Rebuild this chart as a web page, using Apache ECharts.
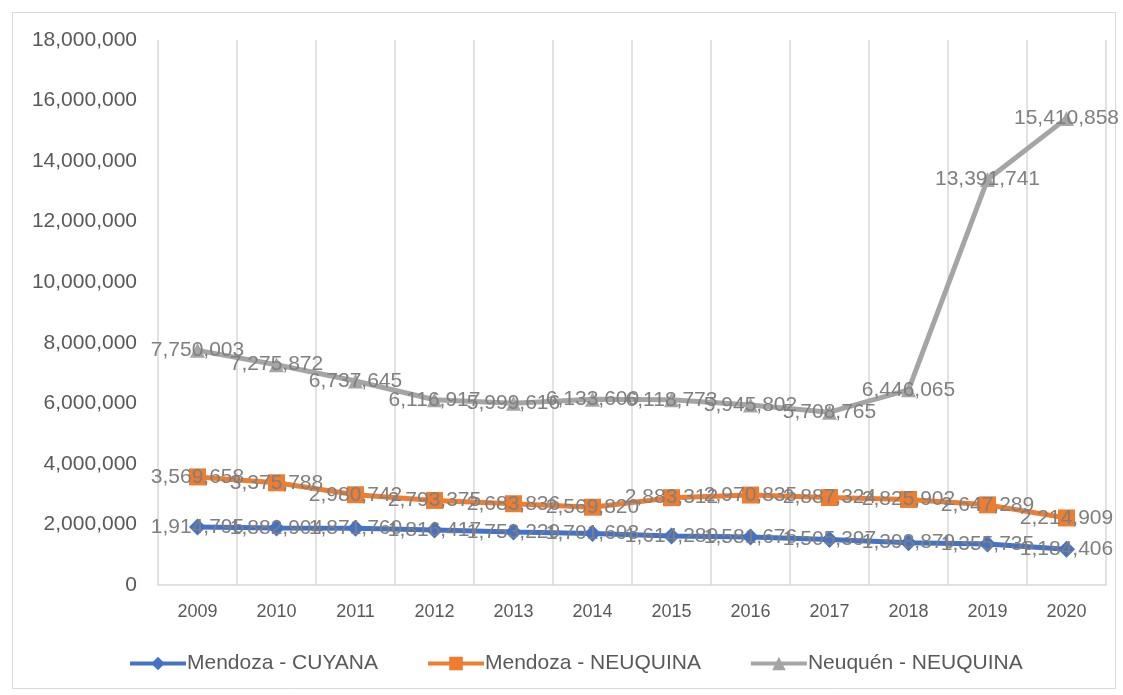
<!DOCTYPE html>
<html>
<head>
<meta charset="utf-8">
<script src="https://cdn.jsdelivr.net/npm/echarts@6/dist/echarts.min.js"></script>
<style>html,body{margin:0;padding:0;background:#fff}#c{width:1123px;height:695px}</style>
</head>
<body>
<div id="c"></div>
<script>
const years = ['2009','2010','2011','2012','2013','2014','2015','2016','2017','2018','2019','2020'];
const mendozaCuyana = [1914795,1882904,1871760,1816417,1753229,1701693,1614280,1581676,1505397,1398879,1355735,1184406];
const mendozaNeuquina = [3569658,3375788,2980742,2793375,2683836,2569820,2883312,2970835,2887324,2825902,2647289,2214909];
const neuquenNeuquina = [7750003,7275872,6737645,6116917,5999616,6133600,6118773,5945802,5708765,6446065,13391741,15410858];
const seriesNames = ['Mendoza - CUYANA','Mendoza - NEUQUINA','Neuquén - NEUQUINA'];

const FONT = 'Liberation Sans';
const fmt = v => Number(v).toLocaleString('en-US');
function mk(name, data, color, symbol, size) {
  return {
    name, type: 'line', data,
    symbol, symbolSize: size,
    lineStyle: { color, width: 5 },
    itemStyle: { color },
    label: {
      show: true, position: 'inside',
      formatter: p => fmt(p.value),
      color: '#7f7f7f', fontSize: 21, fontFamily: FONT
    },
    emphasis: { disabled: true },
    animation: false
  };
}
const chart = echarts.init(document.getElementById('c'), null, { renderer: 'canvas' });
chart.setOption({
  backgroundColor: '#fff',
  animation: false,
  graphic: [{
    type: 'rect', left: 10, top: 10,
    shape: { width: 1103, height: 676 },
    style: { fill: 'none', stroke: '#d9d9d9', lineWidth: 1 },
    silent: true
  }],
  grid: { left: 158, right: 17, top: 40, bottom: 110 },
  legend: {
    bottom: 16, left: 123,
    itemWidth: 56, itemHeight: 17, itemGap: 48,
    lineStyle: { width: 4 },
    textStyle: { color: '#595959', fontSize: 21, fontFamily: FONT, padding: [0, 0, 0, -4] },
    data: seriesNames
  },
  xAxis: {
    type: 'category', data: years, boundaryGap: true,
    axisLine: { lineStyle: { color: '#d9d9d9', width: 1.5 } },
    axisTick: { show: false },
    splitLine: { show: true, lineStyle: { color: '#d9d9d9', width: 1.5 } },
    axisLabel: { color: '#595959', fontSize: 18, fontFamily: FONT, margin: 18 }
  },
  yAxis: {
    type: 'value', min: 0, max: 18000000, interval: 2000000,
    axisLine: { show: false }, axisTick: { show: false },
    splitLine: { show: false },
    axisLabel: { color: '#595959', fontSize: 21, fontFamily: FONT, margin: 21, formatter: v => fmt(v) }
  },
  series: [
    mk(seriesNames[0], mendozaCuyana, '#4472c4', 'diamond', 17),
    mk(seriesNames[1], mendozaNeuquina, '#ed7d31', 'rect', 17),
    mk(seriesNames[2], neuquenNeuquina, '#a5a5a5', 'triangle', 15)
  ]
});
</script>
</body>
</html>
